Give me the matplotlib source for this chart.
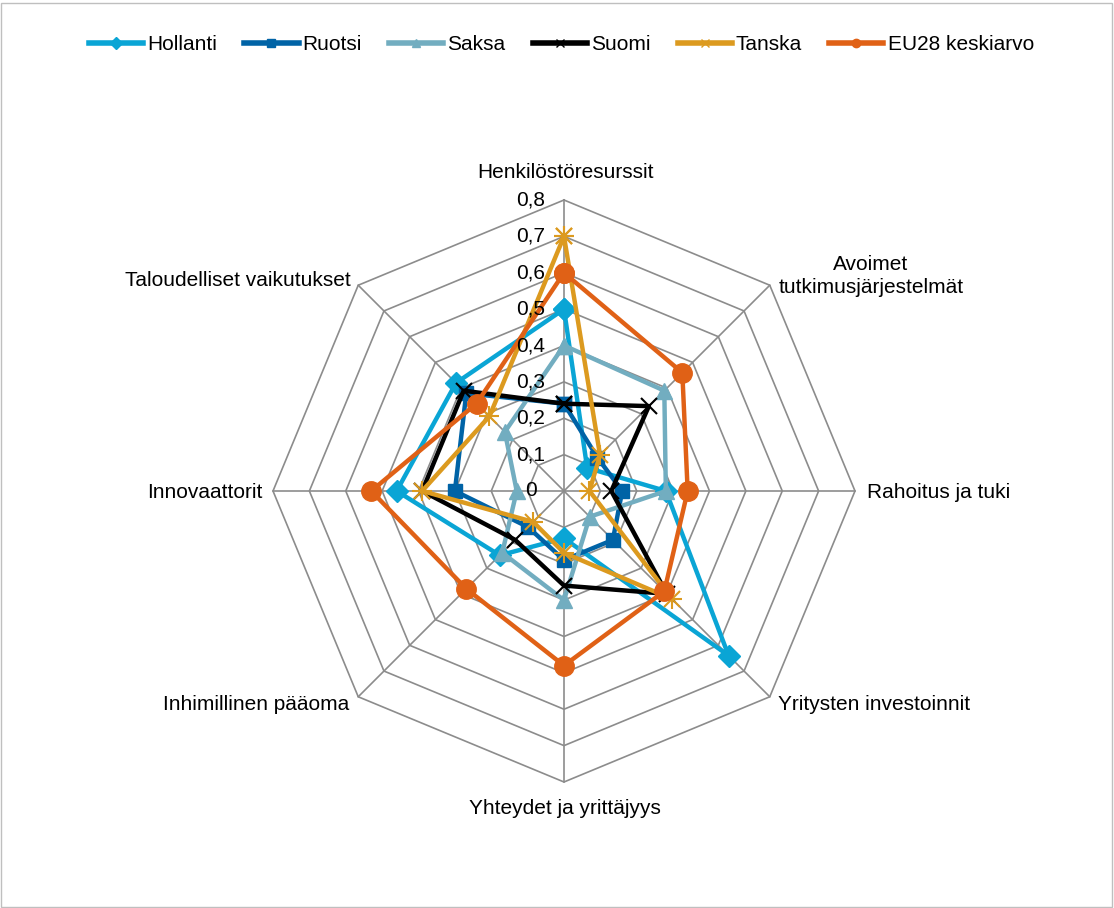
import numpy as np
import matplotlib.pyplot as plt
from matplotlib.lines import Line2D
from matplotlib.patches import Rectangle

plt.rcParams['font.family'] = ['Liberation Sans', 'DejaVu Sans']

# akselit myötäpäivään ylhäältä alkaen
akselit = ['Henkilöstöresurssit', 'Avoimet\ntutkimusjärjestelmät', 'Rahoitus ja tuki',
           'Yritysten investoinnit', 'Yhteydet ja yrittäjyys', 'Inhimillinen pääoma',
           'Innovaattorit', 'Taloudelliset vaikutukset']
tasot = [0, 0.1, 0.2, 0.3, 0.4, 0.5, 0.6, 0.7, 0.8]
tasot_txt = ['0', '0,1', '0,2', '0,3', '0,4', '0,5', '0,6', '0,7', '0,8']

hollanti = [0.50, 0.09, 0.28, 0.64, 0.13, 0.25, 0.46, 0.42]
ruotsi   = [0.24, 0.13, 0.16, 0.19, 0.19, 0.14, 0.30, 0.38]
saksa    = [0.40, 0.39, 0.28, 0.10, 0.30, 0.24, 0.13, 0.23]
suomi    = [0.24, 0.33, 0.13, 0.40, 0.26, 0.19, 0.39, 0.39]
tanska   = [0.70, 0.14, 0.07, 0.42, 0.17, 0.12, 0.39, 0.29]
eu28     = [0.60, 0.46, 0.34, 0.39, 0.48, 0.38, 0.53, 0.34]

sarjat = [('Hollanti', hollanti, '#0AA5D5', 'D', 11, 'none'),
          ('Ruotsi', ruotsi, '#0063A6', 's', 10, 'none'),
          ('Saksa', saksa, '#72ADC0', '^', 12, 'none'),
          ('Suomi', suomi, '#000000', 'x', 11, 'none'),
          ('Tanska', tanska, '#DC9A1F', 'x', 12, 'plus'),
          ('EU28 keskiarvo', eu28, '#E06116', 'o', 14, 'none')]

n = len(akselit)
kulmat = np.arange(n) * 2 * np.pi / n

def xy(arvot):
    a = np.asarray(arvot)
    return a * np.sin(kulmat), a * np.cos(kulmat)

W, H = 1114, 908
cx, cy = 564, 491
skaala = 291 / 0.8  # px per yksikkö

fig = plt.figure(figsize=(W / 100, H / 100), dpi=100)
ax = fig.add_axes([0, 0, 1, 1])
ax.set_xlim(-cx / skaala, (W - cx) / skaala)
ax.set_ylim(-(H - cy) / skaala, cy / skaala)
ax.axis('off')

# ruudukko
grid_c = '#8C8C8C'
for t in tasot[1:]:
    x, y = xy([t] * n)
    ax.plot(np.append(x, x[0]), np.append(y, y[0]), color=grid_c, lw=1.2, zorder=1)
xo, yo = xy([0.8] * n)
for i in range(n):
    ax.plot([0, xo[i]], [0, yo[i]], color=grid_c, lw=1.2, zorder=1)

for t, s in zip(tasot, tasot_txt):
    ax.text(-33 / skaala, t, s, ha='center', va='center', fontsize=15, zorder=20)

for i, (name, vals, col, mk, ms, extra) in enumerate(sarjat):
    x, y = xy(vals)
    x = np.append(x, x[0])
    y = np.append(y, y[0])
    mew = 1.5 if mk == 'x' else 1
    ax.plot(x, y, color=col, lw=3.2, marker=mk, ms=ms, mec=col, mfc=col,
            mew=mew, zorder=3 + i)
    if extra == 'plus':
        ax.plot(x, y, ls='none', marker='+', ms=ms + 2, mec=col, mew=1.5, zorder=3 + i)

# akselien nimet
def px(xp, yp):
    return (xp - cx) / skaala, (cy - yp) / skaala

fs = 15
ax.text(*px(565, 173), akselit[0], ha='center', va='center', fontsize=fs)
ax.text(*px(871, 276), akselit[1], ha='center', va='center', fontsize=fs,
        linespacing=1.25)
ax.text(*px(867, 493), akselit[2], ha='left', va='center', fontsize=fs)
ax.text(*px(778, 705), akselit[3], ha='left', va='center', fontsize=fs)
ax.text(*px(565, 808), akselit[4], ha='center', va='center', fontsize=fs)
ax.text(*px(349, 705), akselit[5], ha='right', va='center', fontsize=fs)
ax.text(*px(262, 493), akselit[6], ha='right', va='center', fontsize=fs)
ax.text(*px(351, 281), akselit[7], ha='right', va='center', fontsize=fs)

# selite
kahvat = []
for name, vals, col, mk, ms, extra in sarjat:
    kahvat.append(Line2D([], [], color=col, lw=4, marker=mk, ms=6, mec=col, mfc=col))
fig.legend(kahvat, [s[0] for s in sarjat], loc='center', bbox_to_anchor=(0.504, 1 - 45 / H),
           ncol=6, frameon=False, fontsize=15, handlelength=2.6, handletextpad=0.2,
           columnspacing=1.3)

fig.patches.append(Rectangle((1 / W, 1 / H), 1 - 3 / W, 1 - 4 / H, transform=fig.transFigure,
                             fill=False, edgecolor='#BFBFBF', lw=1))

fig.savefig('out.png', dpi=100)
